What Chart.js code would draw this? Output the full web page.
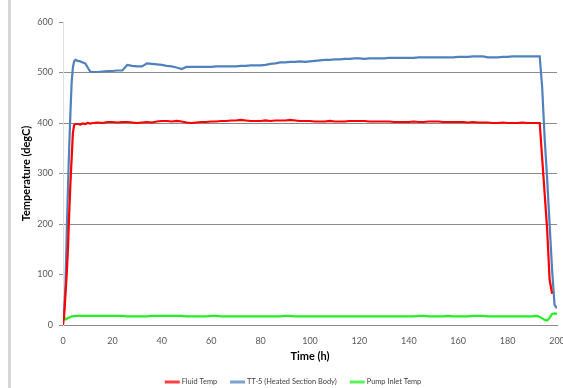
<!DOCTYPE html>
<html>
<head>
<meta charset="utf-8">
<script src="https://cdn.jsdelivr.net/npm/chart.js@4"></script>
<style>
  html, body { margin: 0; padding: 0; background: #fff; }
  #wrap { position: relative; width: 563px; height: 388px; }
  #frame { position: absolute; left: 8px; top: 0; width: 3px; height: 388px; background: #d6d6d6; }
</style>
</head>
<body>
<div id="wrap">
  <canvas id="chart" width="563" height="388"></canvas>
  <div id="frame"></div>
</div>
<script>
// time axis (hours)
const hours = [
  0, 0.5, 1, 1.5, 2, 2.5, 3, 3.5, 4, 4.5, 5,
  6, 7, 8, 9, 10, 11, 12,
  14, 16, 18, 20, 22, 24, 26, 28, 30, 32, 34, 36, 38, 40, 42, 44, 46, 48, 50,
  52, 54, 56, 58, 60, 62, 64, 66, 68, 70, 72, 74, 76, 78, 80, 82, 84, 86, 88, 90,
  92, 94, 96, 98, 100, 102, 104, 106, 108, 110, 112, 114, 116, 118, 120, 122, 124, 126, 128, 130,
  132, 134, 136, 138, 140, 142, 144, 146, 148, 150, 152, 154, 156, 158, 160, 162, 164, 166, 168, 170,
  172, 174, 176, 178, 180, 182, 184, 186, 188, 190, 192,
  193, 194, 195, 196, 197, 198, 199, 200
];

const fluidTemp = [
  0, 20, 60, 100, 150, 220, 280, 330, 380, 396, 398,
  398, 397, 399, 398, 400, 399, 400,
  401, 400, 402, 402, 401, 402, 402, 401, 400, 401, 402, 401, 403, 404, 404, 403, 404, 403, 401,
  400, 401, 402, 402, 403, 403, 404, 404, 405, 405, 406, 405, 404, 404, 404, 405, 404, 405, 405, 405,
  406, 405, 404, 404, 404, 403, 403, 403, 404, 403, 403, 403, 404, 404, 404, 404, 403, 403, 403, 403,
  403, 402, 402, 402, 402, 403, 402, 402, 403, 403, 403, 402, 402, 402, 402, 402, 401, 402, 401, 401,
  401, 400, 400, 401, 400, 400, 400, 401, 400, 400, 400,
  400, 330, 260, 190, 90, 62, null, null
];

const tt5Body = [
  20, 30, 80, 180, 270, 350, 420, 480, 510, 522, 525,
  523, 522, 520, 518, 510, 502, 501,
  501, 502, 503, 503, 504, 504, 515, 513, 512, 512, 518, 517, 516, 515, 513, 512, 510, 507, 511,
  511, 511, 511, 511, 511, 512, 512, 512, 512, 512, 513, 513, 514, 514, 514, 515, 517, 518, 520, 520,
  521, 521, 522, 521, 522, 523, 524, 525, 525, 526, 526, 527, 527, 528, 528, 527, 528, 528, 528, 528,
  529, 529, 529, 529, 529, 529, 530, 530, 530, 530, 530, 530, 530, 530, 531, 531, 531, 532, 532, 532,
  530, 530, 530, 531, 531, 532, 532, 532, 532, 532, 532,
  532, 470, 370, 290, 200, 110, 40, 33
];

const pumpInlet = [
  25, 15, 11, 12, 14, 15, 16, 17, 17, 18, 18,
  18, 18, 18, 18, 18, 18, 18,
  18, 18, 18, 18, 18, 18, 17, 17, 17, 17, 17, 18, 18, 18, 18, 18, 18, 18, 17,
  17, 17, 17, 17, 18, 18, 17, 17, 17, 17, 17, 17, 17, 17, 17, 17, 17, 17, 17, 18,
  18, 17, 17, 17, 17, 17, 17, 17, 17, 17, 17, 17, 17, 17, 17, 17, 17, 17, 17, 17,
  17, 17, 17, 17, 17, 17, 18, 18, 17, 17, 17, 17, 18, 17, 17, 17, 17, 18, 18, 18,
  17, 17, 17, 17, 17, 17, 17, 17, 17, 17, 18,
  16, 13, 10, 9, 14, 22, 23, 22
];

const seriesLabels = ["Fluid Temp", "TT-5 (Heated Section Body)", "Pump Inlet Temp"];
const seriesColors = ["#ff0000", "#4f81bd", "#22f022"];
const yTicks = [0, 100, 200, 300, 400, 500, 600];
const xTicks = [0, 20, 40, 60, 80, 100, 120, 140, 160, 180, 200];

function toPoints(values) {
  return hours.map((h, i) => ({ x: h, y: values[i] }));
}

// legend drawn along the bottom, Excel style (short line + label)
const bottomLegend = {
  id: "bottomLegend",
  afterDraw(chart) {
    const c = chart.ctx;
    const font = "7.4px Lato";
    const lineW = 15, textGap = 2, itemGap = 13, y = 382;
    c.save();
    c.font = font;
    const widths = seriesLabels.map((t) => c.measureText(t).width);
    const total = widths.reduce((a, w) => a + lineW + textGap + w, 0) + itemGap * (seriesLabels.length - 1);
    let x = 293 - total / 2;
    seriesLabels.forEach((t, i) => {
      c.fillStyle = seriesColors[i];
      c.globalAlpha = 0.75;
      c.fillRect(x, y - 1.5, lineW, 3);
      c.globalAlpha = 1;
      x += lineW + textGap;
      c.fillStyle = "#404040";
      c.textBaseline = "middle";
      c.fillText(t, x, y);
      x += widths[i] + itemGap;
    });
    c.restore();
  },
};

const ctx = document.getElementById("chart").getContext("2d");
const series = [fluidTemp, tt5Body, pumpInlet];

new Chart(ctx, {
  type: "line",
  data: {
    datasets: series.map((vals, i) => ({
      label: seriesLabels[i],
      data: toPoints(vals),
      borderColor: seriesColors[i],
      backgroundColor: seriesColors[i],
      borderWidth: 2.2,
      pointRadius: 0,
      tension: 0,
      spanGaps: false,
    })),
  },
  options: {
    responsive: false,
    animation: false,
    layout: { padding: { left: 20, right: 0, top: 22, bottom: 13 } },
    plugins: {
      legend: { display: false },
      tooltip: { enabled: false },
    },
    scales: {
      x: {
        type: "linear",
        min: 0,
        max: 200,
        afterBuildTicks: (scale) => { scale.ticks = xTicks.map((v) => ({ value: v })); },
        afterFit: (scale) => { scale.height = 50; scale.paddingRight = 6; },
        grid: { display: false, drawTicks: true, tickLength: 3, tickColor: "#bfbfbf" },
        border: { display: true, color: "#8c8c8c", width: 1 },
        ticks: { color: "#595959", font: { family: "Lato", size: 9 }, padding: 8, maxRotation: 0 },
        title: {
          display: true,
          text: "Time (h)",
          color: "#000",
          font: { family: "Lato", size: 11, weight: "bold" },
          padding: { top: 2, bottom: 12 },
        },
      },
      y: {
        min: 0,
        max: 600,
        afterBuildTicks: (scale) => { scale.ticks = yTicks.map((v) => ({ value: v })); },
        afterFit: (scale) => { scale.width = 43; },
        grid: {
          color: (c) => (c.tick && c.tick.value >= 200 && c.tick.value <= 500 ? "#8c8c8c" : "rgba(0,0,0,0)"),
          drawTicks: true,
          tickLength: 4,
          tickColor: "#8c8c8c",
        },
        border: { display: true, color: "#e0e0e0", width: 1 },
        ticks: { color: "#595959", font: { family: "Lato", size: 9 }, padding: 6 },
        title: {
          display: true,
          text: "Temperature (degC)",
          color: "#000",
          font: { family: "Lato", size: 11, weight: "bold" },
          padding: { top: 0, bottom: 0 },
        },
      },
    },
  },
  plugins: [bottomLegend],
});
</script>
</body>
</html>
